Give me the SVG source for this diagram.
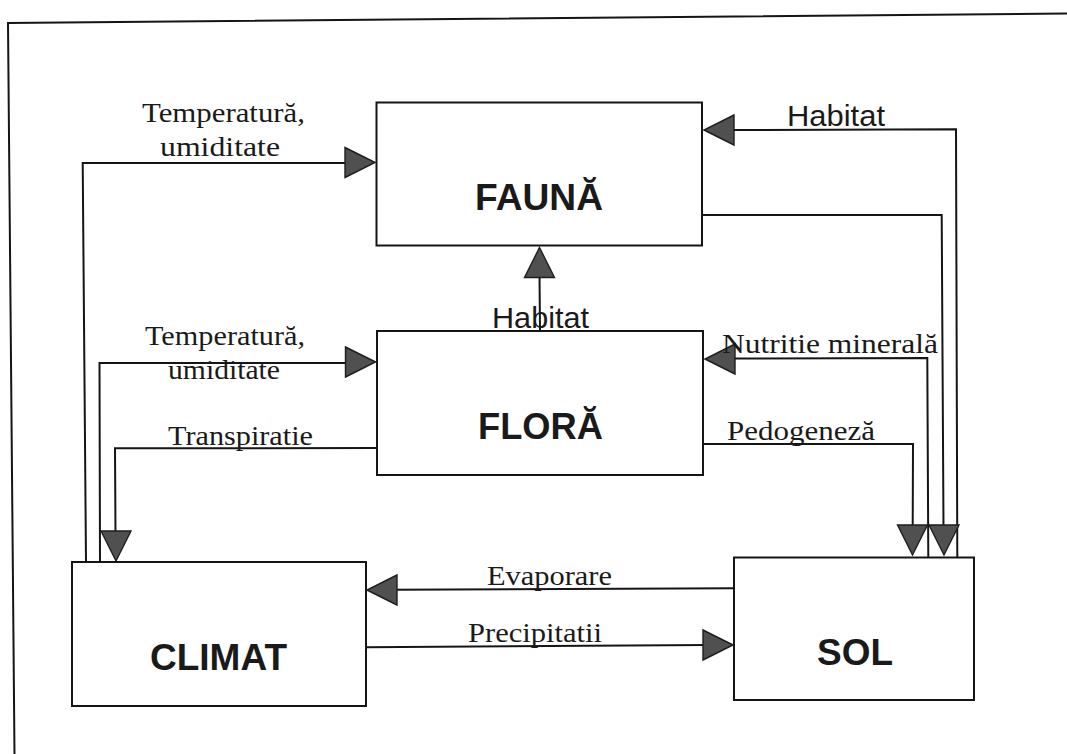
<svg xmlns="http://www.w3.org/2000/svg" xmlns:xlink="http://www.w3.org/1999/xlink" width="1067" height="754" viewBox="0 0 1067 754">
  <style>
    .frame { fill: none; stroke: #151515; stroke-width: 2; }
    .box { fill: #ffffff; stroke: #151515; stroke-width: 2; }
    .wire { fill: none; stroke: #151515; stroke-width: 2; stroke-linejoin: miter; }
    .head { fill: #505050; stroke: #1e1e1e; stroke-width: 1.4; stroke-linejoin: miter; }
    .node-label { font-family: "Liberation Sans", Arial, sans-serif; font-weight: bold; font-size: 37px; fill: #1a1a1a; }
    .serif { font-family: "Liberation Serif", "Times New Roman", serif; font-size: 28px; fill: #1a1a1a; }
    .sans { font-family: "Liberation Sans", Arial, sans-serif; font-size: 29.5px; fill: #1a1a1a; }
  </style>
  <defs>
    <!-- filled triangular arrowhead, tip at the origin, pointing right -->
    <polygon id="ah" class="head" points="0,0 -30,-15 -30,15"/>
  </defs>

  <rect width="1067" height="754" fill="#ffffff"/>

  <!-- page frame -->
  <path class="frame" d="M 14.5 754 L 8 23 L 1067 13.5"/>

  <!-- nodes -->
  <g id="fauna">
    <rect class="box" x="376.5" y="102.5" width="325.5" height="143"/>
    <text class="node-label" x="475" y="210" textLength="128" lengthAdjust="spacingAndGlyphs">FAUNĂ</text>
  </g>
  <g id="flora">
    <rect class="box" x="377" y="331" width="326" height="144"/>
    <text class="node-label" x="478" y="439" textLength="125" lengthAdjust="spacingAndGlyphs">FLORĂ</text>
  </g>
  <g id="climat">
    <rect class="box" x="72" y="562" width="294" height="144"/>
    <text class="node-label" x="150" y="669.5" textLength="137" lengthAdjust="spacingAndGlyphs">CLIMAT</text>
  </g>
  <g id="sol">
    <rect class="box" x="734" y="557.5" width="240" height="142.5"/>
    <text class="node-label" x="817" y="664.5" textLength="76" lengthAdjust="spacingAndGlyphs">SOL</text>
  </g>

  <!-- connectors -->
  <g id="connectors">
    <!-- CLIMAT -> FAUNA : temperature, humidity -->
    <path class="wire" d="M 86 562 L 82.7 163 L 350 163"/>
    <use xlink:href="#ah" transform="translate(375,162.5)"/>
    <text class="serif" x="142" y="122" textLength="163" lengthAdjust="spacingAndGlyphs">Temperatură,</text>
    <text class="serif" x="160" y="156" textLength="120" lengthAdjust="spacingAndGlyphs">umiditate</text>

    <!-- CLIMAT -> FLORA : temperature, humidity -->
    <path class="wire" d="M 100 562 L 99.5 363 L 350 363"/>
    <use xlink:href="#ah" transform="translate(375.5,362)"/>
    <text class="serif" x="145" y="344.5" textLength="160" lengthAdjust="spacingAndGlyphs">Temperatură,</text>
    <text class="serif" x="168" y="378.5" textLength="112" lengthAdjust="spacingAndGlyphs">umiditate</text>

    <!-- FLORA -> CLIMAT : transpiration -->
    <path class="wire" d="M 377 448 L 115 448.3 L 115.5 535"/>
    <use xlink:href="#ah" transform="translate(116,561) rotate(90)"/>
    <text class="serif" x="168" y="444.5" textLength="145" lengthAdjust="spacingAndGlyphs">Transpiratie</text>

    <!-- FLORA -> FAUNA : habitat -->
    <path class="wire" d="M 540 331 L 539.5 275"/>
    <use xlink:href="#ah" transform="translate(539.5,247.5) rotate(-90)"/>
    <text class="sans" x="492" y="328.3" textLength="97" lengthAdjust="spacingAndGlyphs">Habitat</text>

    <!-- SOL -> FAUNA : habitat -->
    <path class="wire" d="M 957.3 557.5 L 956 129.3 L 730 130"/>
    <use xlink:href="#ah" transform="translate(704,130) rotate(180)"/>
    <text class="sans" x="787" y="126" textLength="98" lengthAdjust="spacingAndGlyphs">Habitat</text>

    <!-- FAUNA -> SOL -->
    <path class="wire" d="M 702 215 L 941.7 215 L 943.5 528"/>
    <use xlink:href="#ah" transform="translate(944,555) rotate(90)"/>

    <!-- SOL -> FLORA : mineral nutrition -->
    <path class="wire" d="M 928.3 557.5 L 927.3 358 L 730 358.5"/>
    <use xlink:href="#ah" transform="translate(705,359) rotate(180)"/>
    <text class="serif" x="722" y="353.3" textLength="216" lengthAdjust="spacingAndGlyphs">Nutritie minerală</text>

    <!-- FLORA -> SOL : soil formation -->
    <path class="wire" d="M 703 444 L 913 444 L 912.7 528"/>
    <use xlink:href="#ah" transform="translate(912.5,555) rotate(90)"/>
    <text class="serif" x="727" y="440" textLength="148" lengthAdjust="spacingAndGlyphs">Pedogeneză</text>

    <!-- SOL -> CLIMAT : evaporation -->
    <path class="wire" d="M 734 588.3 L 392 589.8"/>
    <use xlink:href="#ah" transform="translate(367,590) rotate(180)"/>
    <text class="serif" x="487" y="585" textLength="125" lengthAdjust="spacingAndGlyphs">Evaporare</text>

    <!-- CLIMAT -> SOL : precipitation -->
    <path class="wire" d="M 366 647.3 L 708 645"/>
    <use xlink:href="#ah" transform="translate(733,645)"/>
    <text class="serif" x="468" y="641.7" textLength="134" lengthAdjust="spacingAndGlyphs">Precipitatii</text>
  </g>
</svg>
